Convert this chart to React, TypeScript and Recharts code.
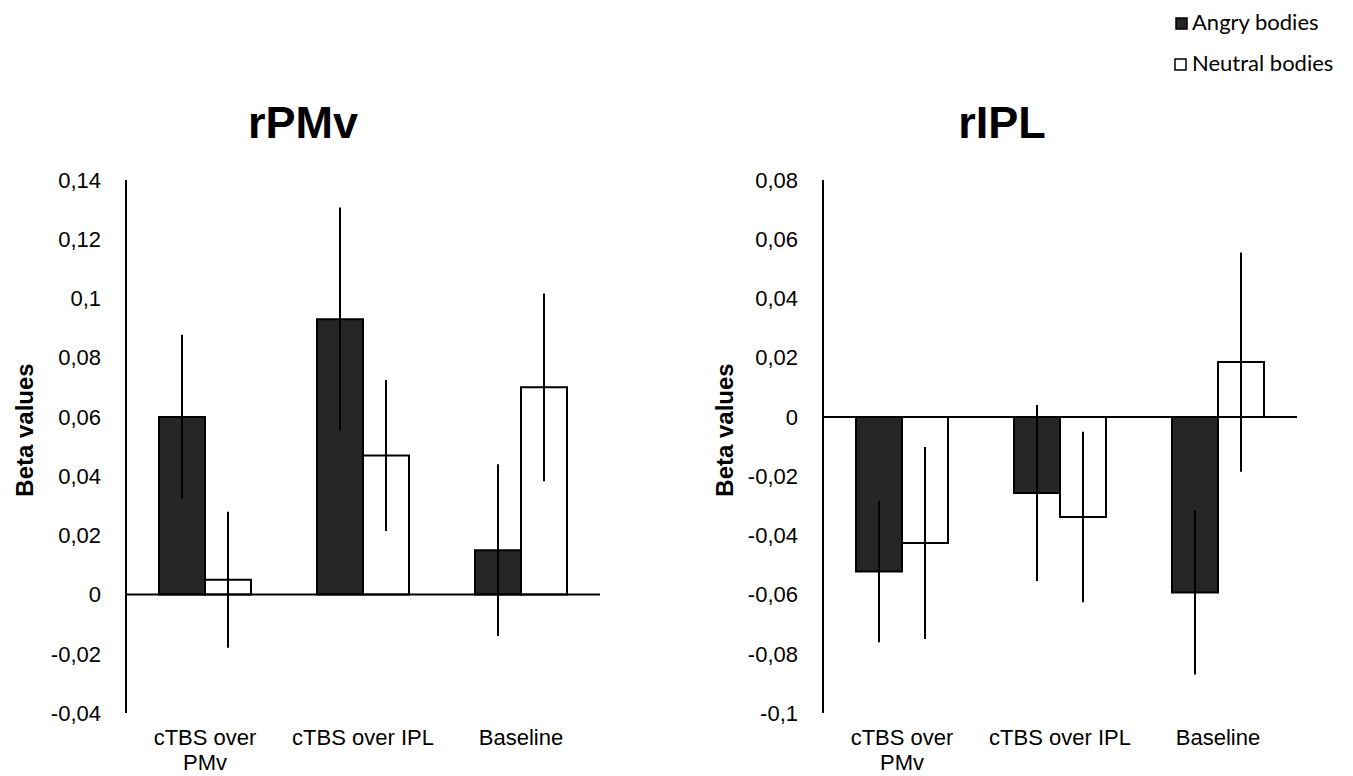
import React from 'react';
import { BarChart, Bar, XAxis, YAxis, ErrorBar, ReferenceLine } from 'recharts';

const categories = ['cTBS over\nPMv', 'cTBS over IPL', 'Baseline'];
const seriesNames = ['Angry bodies', 'Neutral bodies'];
const titles = ['rPMv', 'rIPL'];
const yAxisTitle = 'Beta values';

const rpmvAngry = [0.06, 0.093, 0.015];
const rpmvAngryErr = [0.0277, 0.0377, 0.029];
const rpmvNeutral = [0.005, 0.047, 0.07];
const rpmvNeutralErr = [0.023, 0.0255, 0.0317];

const riplAngry = [-0.0522, -0.0257, -0.0593];
const riplAngryErr = [0.0239, 0.0297, 0.0277];
const riplNeutral = [-0.0426, -0.0338, 0.0185];
const riplNeutralErr = [0.0324, 0.0288, 0.037];

const rpmvTicks = [-0.04, -0.02, 0, 0.02, 0.04, 0.06, 0.08, 0.1, 0.12, 0.14];
const riplTicks = [-0.1, -0.08, -0.06, -0.04, -0.02, 0, 0.02, 0.04, 0.06, 0.08];

const ARIAL = '"Liberation Sans", Arial, sans-serif';

const fmt = (v: number) => String(Number(v.toFixed(2))).replace('.', ',');

function CatTick(props: any) {
  const { x, y, payload } = props;
  const lines = String(payload.value).split('\n');
  return (
    <text x={x} y={y} textAnchor="middle" fill="#000" fontSize={22} fontFamily={ARIAL}>
      {lines.map((l, i) => (
        <tspan key={i} x={x} dy={i === 0 ? 32 : 25}>
          {l}
        </tspan>
      ))}
    </text>
  );
}

function Panel(props: any) {
  const { left, width, marginRight, angry, angryErr, neutral, neutralErr, ticks } = props;
  const data = categories.map((c, i) => ({
    cat: c,
    angry: angry[i],
    angryErr: angryErr[i],
    neutral: neutral[i],
    neutralErr: neutralErr[i],
  }));
  return (
    <div style={{ position: 'absolute', left, top: 0 }}>
      <BarChart
        width={width}
        height={776}
        data={data}
        margin={{ top: 180, right: marginRight, bottom: 0, left: 0 }}
        barCategoryGap={33}
        barGap={0}
      >
        <XAxis
          dataKey="cat"
          axisLine={false}
          tickLine={false}
          tickSize={0}
          tickMargin={0}
          height={63}
          interval={0}
          tick={<CatTick />}
        />
        <YAxis
          type="number"
          domain={[ticks[0], ticks[ticks.length - 1]]}
          ticks={ticks}
          interval={0}
          width={126}
          axisLine={{ stroke: '#000', strokeWidth: 2 }}
          tickLine={false}
          tickSize={0}
          tickMargin={25}
          tick={{ fill: '#000', fontSize: 22, fontFamily: ARIAL }}
          tickFormatter={fmt}
          allowDataOverflow
        />
        <ReferenceLine y={0} stroke="#000" strokeWidth={2} />
        <Bar dataKey="angry" name={seriesNames[0]} fill="#262626" stroke="#000" strokeWidth={2} isAnimationActive={false}>
          <ErrorBar dataKey="angryErr" width={0} stroke="#000" strokeWidth={2} />
        </Bar>
        <Bar dataKey="neutral" name={seriesNames[1]} fill="#ffffff" stroke="#000" strokeWidth={2} isAnimationActive={false}>
          <ErrorBar dataKey="neutralErr" width={0} stroke="#000" strokeWidth={2} />
        </Bar>
      </BarChart>
    </div>
  );
}

export default function App() {
  return (
    <div
      style={{
        position: 'absolute',
        left: 0,
        top: 0,
        width: 1353,
        height: 776,
        background: '#fff',
        overflow: 'hidden',
      }}
    >
      <Panel
        left={0}
        width={676}
        marginRight={76}
        angry={rpmvAngry}
        angryErr={rpmvAngryErr}
        neutral={rpmvNeutral}
        neutralErr={rpmvNeutralErr}
        ticks={rpmvTicks}
      />
      <Panel
        left={697}
        width={656}
        marginRight={56}
        angry={riplAngry}
        angryErr={riplAngryErr}
        neutral={riplNeutral}
        neutralErr={riplNeutralErr}
        ticks={riplTicks}
      />
      <svg width={1353} height={776} style={{ position: 'absolute', left: 0, top: 0, pointerEvents: 'none' }}>
        <text x={303} y={138} textAnchor="middle" fontSize={45} fontWeight="bold" fontFamily={ARIAL} fill="#000">
          {titles[0]}
        </text>
        <text x={1002} y={138} textAnchor="middle" fontSize={45} fontWeight="bold" fontFamily={ARIAL} fill="#000">
          {titles[1]}
        </text>
        <text x={33} y={430} transform="rotate(-90, 33, 430)" textAnchor="middle" fontSize={24} fontWeight="bold" fontFamily={ARIAL} fill="#000">
          {yAxisTitle}
        </text>
        <text x={733} y={430} transform="rotate(-90, 733, 430)" textAnchor="middle" fontSize={24} fontWeight="bold" fontFamily={ARIAL} fill="#000">
          {yAxisTitle}
        </text>
        <rect x={1176} y={18} width={11} height={11} fill="#262626" stroke="#000" strokeWidth={1.5} />
        <text x={1192} y={30} fontSize={22} fontFamily="Lato, sans-serif" fill="#000">
          {seriesNames[0]}
        </text>
        <rect x={1175} y={59} width={11} height={11} fill="#fff" stroke="#000" strokeWidth={1.5} />
        <text x={1192} y={71} fontSize={22} fontFamily="Lato, sans-serif" fill="#000">
          {seriesNames[1]}
        </text>
      </svg>
    </div>
  );
}
